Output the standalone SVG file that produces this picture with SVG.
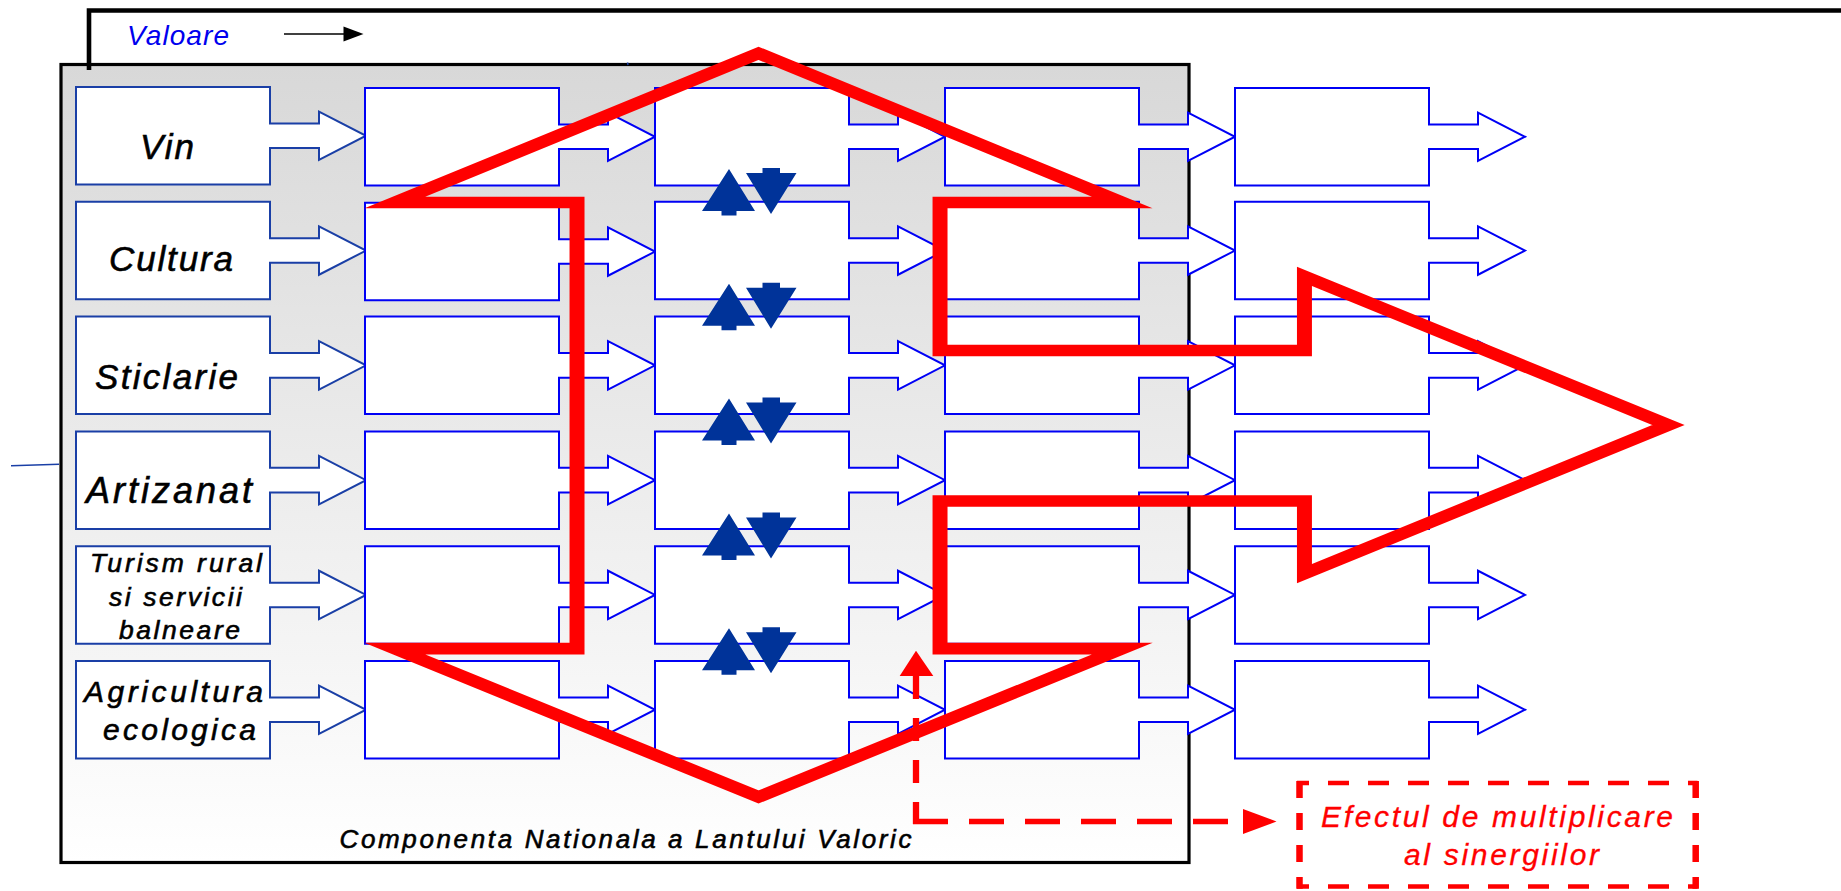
<svg xmlns="http://www.w3.org/2000/svg" xmlns:xlink="http://www.w3.org/1999/xlink" width="1841" height="891" viewBox="0 0 1841 891">
<style>
.b1{fill:#fff;stroke:#1a3fa6;stroke-width:2}
.b{fill:#fff;stroke:#0000f5;stroke-width:2}
.da{fill:#003399}
.lbl{font-family:"Liberation Sans",Arial,sans-serif;font-style:italic;fill:#000;stroke:#000;stroke-width:0.6}
.rt{font-family:"Liberation Sans",Arial,sans-serif;font-style:italic;fill:#ff0000;stroke:#ff0000;stroke-width:0.3}
.red{fill:none;stroke:#ff0000;stroke-width:11.7;stroke-linejoin:miter;stroke-miterlimit:10}
.dash{fill:none;stroke:#ff0000}
</style>
<defs>
<linearGradient id="bg" x1="0" y1="0" x2="0" y2="1">
<stop offset="0" stop-color="#d8d8d8"/>
<stop offset="1" stop-color="#ffffff"/>
</linearGradient>
<path id="blk" d="M0,0 H194 V36.45 H243 V24.55 L290,48.75 L243,72.95 V61.05 H194 V97.5 H0 Z"/>
<path id="up" d="M729,169 L755,211 H736.5 V215.5 H721.5 V211 H702 Z"/>
<path id="dn" d="M762.5,168 H780 V173 H796.5 L771,214 L746,173 H762.5 Z"/>
</defs>
<rect width="1841" height="891" fill="#fff"/>
<g id="frame">
<rect x="61" y="64.5" width="1128" height="798" fill="url(#bg)" stroke="#000" stroke-width="3.2"/>
<path d="M89,70 V10.5 H1841" fill="none" stroke="#000" stroke-width="4.6"/>
<line x1="11" y1="465.7" x2="59" y2="464.3" stroke="#1a3fa6" stroke-width="1.6"/>
<line x1="627.5" y1="62.5" x2="628" y2="65" stroke="#1a3fa6" stroke-width="1.5"/>
</g>
<g id="valoare">
<text x="127" y="45" font-family="'Liberation Sans',Arial,sans-serif" font-style="italic" font-size="28" fill="#0000ee" textLength="102" lengthAdjust="spacing">Valoare</text>
<line x1="284" y1="34" x2="345" y2="34" stroke="#000" stroke-width="1.6"/>
<polygon points="363.5,34 343.5,26.5 343.5,41.5" fill="#000"/>
</g>
<g id="n-vin"><use xlink:href="#blk" href="#blk" class="b1" x="76" y="87"/><text class="lbl" x="140" y="159.3" font-size="35" textLength="54" lengthAdjust="spacing">Vin</text></g>
<g id="n-cultura"><use xlink:href="#blk" href="#blk" class="b1" x="76" y="201.8"/><text class="lbl" x="109" y="271" font-size="35" textLength="124" lengthAdjust="spacing">Cultura</text></g>
<g id="n-sticlarie"><use xlink:href="#blk" href="#blk" class="b1" x="76" y="316.6"/><text class="lbl" x="95" y="389" font-size="35" textLength="143" lengthAdjust="spacing">Sticlarie</text></g>
<g id="n-artizanat"><use xlink:href="#blk" href="#blk" class="b1" x="76" y="431.4"/><text class="lbl" x="86" y="502.7" font-size="36" textLength="166" lengthAdjust="spacing">Artizanat</text></g>
<g id="n-turism"><use xlink:href="#blk" href="#blk" class="b1" x="76" y="546.2"/>
<text class="lbl" x="90" y="572.3" font-size="26.5" textLength="172" lengthAdjust="spacing">Turism rural</text>
<text class="lbl" x="109" y="606" font-size="26.5" textLength="133" lengthAdjust="spacing">si servicii</text>
<text class="lbl" x="119" y="639" font-size="26.5" textLength="121" lengthAdjust="spacing">balneare</text></g>
<g id="n-agricultura"><use xlink:href="#blk" href="#blk" class="b1" x="76" y="661"/>
<text class="lbl" x="84" y="701.7" font-size="30" textLength="179" lengthAdjust="spacing">Agricultura</text>
<text class="lbl" x="103" y="740" font-size="30" textLength="153" lengthAdjust="spacing">ecologica</text></g>
<g id="col2">
<g id="n-r1-c2"><use xlink:href="#blk" href="#blk" class="b" x="365" y="88"/></g>
<g id="n-r2-c2"><use xlink:href="#blk" href="#blk" class="b" x="365" y="202.8"/></g>
<g id="n-r3-c2"><use xlink:href="#blk" href="#blk" class="b" x="365" y="316.6"/></g>
<g id="n-r4-c2"><use xlink:href="#blk" href="#blk" class="b" x="365" y="431.4"/></g>
<g id="n-r5-c2"><use xlink:href="#blk" href="#blk" class="b" x="365" y="546.2"/></g>
<g id="n-r6-c2"><use xlink:href="#blk" href="#blk" class="b" x="365" y="661"/></g>
</g>
<g id="col3">
<g id="n-r1-c3"><use xlink:href="#blk" href="#blk" class="b" x="655" y="88"/></g>
<g id="n-r2-c3"><use xlink:href="#blk" href="#blk" class="b" x="655" y="201.8"/></g>
<g id="n-r3-c3"><use xlink:href="#blk" href="#blk" class="b" x="655" y="316.6"/></g>
<g id="n-r4-c3"><use xlink:href="#blk" href="#blk" class="b" x="655" y="431.4"/></g>
<g id="n-r5-c3"><use xlink:href="#blk" href="#blk" class="b" x="655" y="546.2"/></g>
<g id="n-r6-c3"><use xlink:href="#blk" href="#blk" class="b" x="655" y="661"/></g>
</g>
<g id="col4">
<g id="n-r1-c4"><use xlink:href="#blk" href="#blk" class="b" x="945" y="88"/></g>
<g id="n-r2-c4"><use xlink:href="#blk" href="#blk" class="b" x="945" y="201.8"/></g>
<g id="n-r3-c4"><use xlink:href="#blk" href="#blk" class="b" x="945" y="316.6"/></g>
<g id="n-r4-c4"><use xlink:href="#blk" href="#blk" class="b" x="945" y="431.4"/></g>
<g id="n-r5-c4"><use xlink:href="#blk" href="#blk" class="b" x="945" y="546.2"/></g>
<g id="n-r6-c4"><use xlink:href="#blk" href="#blk" class="b" x="945" y="661"/></g>
</g>
<g id="col5">
<g id="n-r1-c5"><use xlink:href="#blk" href="#blk" class="b" x="1235" y="88"/></g>
<g id="n-r2-c5"><use xlink:href="#blk" href="#blk" class="b" x="1235" y="201.8"/></g>
<g id="n-r3-c5"><use xlink:href="#blk" href="#blk" class="b" x="1235" y="316.6"/></g>
<g id="n-r4-c5"><use xlink:href="#blk" href="#blk" class="b" x="1235" y="431.4"/></g>
<g id="n-r5-c5"><use xlink:href="#blk" href="#blk" class="b" x="1235" y="546.2"/></g>
<g id="n-r6-c5"><use xlink:href="#blk" href="#blk" class="b" x="1235" y="661"/></g>
</g>
<g id="connectors">
<g id="exchange-arrows" class="da">
<use xlink:href="#up" href="#up"/><use xlink:href="#dn" href="#dn"/>
<use xlink:href="#up" href="#up" y="114.8"/><use xlink:href="#dn" href="#dn" y="114.8"/>
<use xlink:href="#up" href="#up" y="229.6"/><use xlink:href="#dn" href="#dn" y="229.6"/>
<use xlink:href="#up" href="#up" y="344.4"/><use xlink:href="#dn" href="#dn" y="344.4"/>
<use xlink:href="#up" href="#up" y="459.2"/><use xlink:href="#dn" href="#dn" y="459.2"/>
</g>
<g id="synergy-shape" transform="scale(1.28,1)">
<path class="red" d="M308.5,202.5 L592.6,53.3 L876.7,202.5 L734.4,202.5 L734.4,350.5 L1019.1,350.5 L1019.1,276.4 L1303.5,425 L1019.1,573.6 L1019.1,501 L734.4,501 L734.4,648.7 L876.7,648.7 L592.6,797 L308.5,648.7 L450.8,648.7 L450.8,202.5 Z"/>
</g>
<g id="dashed-link">
<path class="dash" d="M916,676 V824" stroke-width="6.3" stroke-dasharray="23 19"/>
<path class="dash" d="M913,821.5 H1243" stroke-width="5.5" stroke-dasharray="35 21"/>
<polygon points="916,650.7 933.3,676 899.7,676" fill="#ff0000"/>
<polygon points="1276.5,821.5 1243,809 1243,834" fill="#ff0000"/>
</g>
</g>
<g id="n-efect">
<path class="dash" d="M1297,783 H1697.5 M1297,886.5 H1697.5" stroke-width="4.5" stroke-dasharray="21 19" stroke-dashoffset="9"/>
<path class="dash" d="M1299.5,781 V888.7 M1695.7,781 V888.7" stroke-width="6.5" stroke-dasharray="17 15"/>
<text class="rt" x="1321" y="826.7" font-size="30" textLength="352" lengthAdjust="spacing">Efectul de multiplicare</text>
<text class="rt" x="1404" y="865" font-size="30" textLength="195" lengthAdjust="spacing">al sinergiilor</text>
</g>
<g id="footer">
<text class="lbl" x="339.5" y="848" font-size="26" textLength="572" lengthAdjust="spacing" stroke-width="0.4">Componenta Nationala a Lantului Valoric</text>
</g>
</svg>
